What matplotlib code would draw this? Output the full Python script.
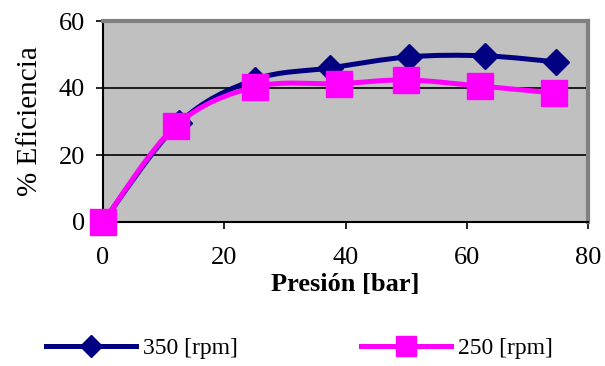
import numpy as np
import matplotlib
matplotlib.use("Agg")
import matplotlib.pyplot as plt
from matplotlib.path import Path
from matplotlib.patches import PathPatch
from matplotlib.lines import Line2D

# datos
x350 = [0, 12.5, 25, 37.5, 50.5, 63, 74.7]
y350 = [0, 29.5, 42.5, 46, 49.3, 49.6, 47.8]
x250 = [0, 12, 25, 39, 50, 62.2, 74.4]
y250 = [0, 28.7, 40.3, 41.3, 42.4, 40.6, 38.5]
xticks = [0, 20, 40, 60, 80]
yticks = [0, 20, 40, 60]

plt.rcParams['font.family'] = ['Liberation Serif', 'DejaVu Serif']


def smooth_path(x, y):
    # curva suavizada tipo Excel (Bezier por Catmull-Rom)
    p = np.column_stack([x, y]).astype(float)
    n = len(p)
    verts = [p[0]]
    codes = [Path.MOVETO]
    for i in range(n - 1):
        p0 = p[i - 1] if i > 0 else p[i]
        p3 = p[i + 2] if i + 2 < n else p[i + 1]
        c1 = p[i] + (p[i + 1] - p0) / 6
        c2 = p[i + 1] - (p3 - p[i]) / 6
        verts += [c1, c2, p[i + 1]]
        codes += [Path.CURVE4] * 3
    return Path(verts, codes)


fig = plt.figure(figsize=(6.05, 3.66), dpi=100)
ax = fig.add_axes([103 / 605, 1 - 222 / 366, 485 / 605, 201 / 366])
ax.set_facecolor('#C0C0C0')

navy = '#000080'
pink = '#FF00FF'

ax.add_patch(PathPatch(smooth_path(x350, y350), fc='none', ec=navy, lw=3.6, zorder=3))
ax.plot(x350, y350, ls='none', marker='D', ms=13, color=navy, zorder=4, clip_on=False)
ax.add_patch(PathPatch(smooth_path(x250, y250), fc='none', ec=pink, lw=3.6, zorder=5))
ax.plot(x250, y250, ls='none', marker='s', ms=19, color=pink, zorder=6, clip_on=False)

ax.set_xlim(0, 80)
ax.set_ylim(0, 60)
ax.set_xticks(xticks)
ax.set_yticks(yticks)
ax.yaxis.grid(True, color='black', lw=1.2)
ax.set_axisbelow(True)
ax.tick_params(labelsize=19, length=5, width=1.2, color='black', pad=8)
ax.tick_params(axis='x', pad=13)

for s in ['left', 'bottom']:
    ax.spines[s].set_color('black')
    ax.spines[s].set_linewidth(1.5)
for s in ['top', 'right']:
    ax.spines[s].set_color('#808080')
    ax.spines[s].set_linewidth(3)

ax.set_xlabel('Presión [bar]', fontsize=19, fontweight='bold', labelpad=3)
ax.set_ylabel('% Eficiencia', fontsize=21, labelpad=11)

handles = [
    Line2D([], [], color=navy, lw=3.6, marker='D', ms=11),
    Line2D([], [], color=pink, lw=3.6, marker='s', ms=15),
]
fig.legend(handles, ['350 [rpm]', '250 [rpm]'], loc='center',
           bbox_to_anchor=(0.495, 0.049), ncol=2, frameon=False,
           fontsize=17, handlelength=3.8, handletextpad=0.3, columnspacing=5.2)

fig.savefig('out.png', dpi=100)
